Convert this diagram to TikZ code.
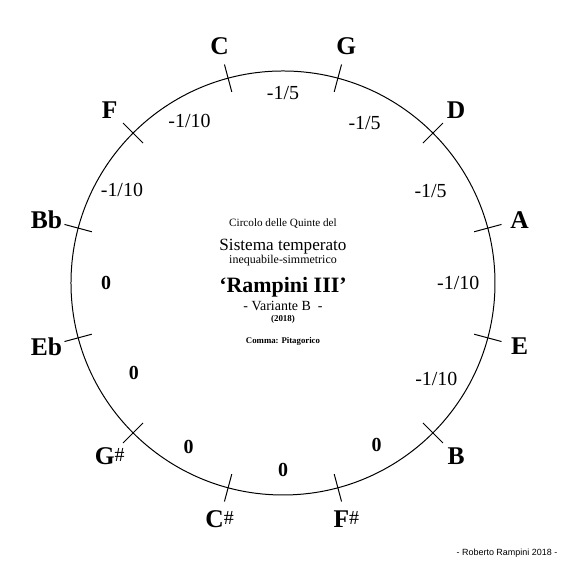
\documentclass[tikz,border=0pt]{standalone}
\usepackage{fontspec}
\setmainfont{Liberation Serif}
\newfontfamily\firmafont{Liberation Sans}
\newcommand{\diesis}{\raisebox{1.6pt}{\mdseries\fontsize{10}{10}\selectfont\#}}

\begin{document}
\begin{tikzpicture}[line width=0.5pt,
	notename/.style={font=\fontsize{12.8}{13}\selectfont\bfseries},
	frac/.style={font=\fontsize{10}{10}\selectfont},
	zero/.style={font=\fontsize{10}{10}\selectfont\bfseries},
	centro/.style={anchor=base, inner sep=0pt}]
	\useasboundingbox (-4.991,-5.009) rectangle (5.009,4.991);
	% cerchio e note
	\draw (0,0) circle (3.739);
	\foreach \a/\n/\t in {105/C/C, 75/G/G, 45/D/D, 15/A/A, -15/E/E, -45/B/B, -75/Fs/F\diesis, -105/Cs/C\diesis, -135/Gs/G\diesis, -165/Eb/Eb, 165/Bb/Bb, 135/F/F} {
		\draw (\a:3.49) -- (\a:3.99);
		\node[notename] (\n) at (\a:4.32) {\t};
	}
	% temperamenti
	\foreach \a/\r/\t [count=\i] in {90/3.35/{-1/5}, 63/3.17/{-1/5}, 32/3.07/{-1/5}, 0/3.09/{-1/10}, -32/3.19/{-1/10}, 150/3.28/{-1/10}, 120/3.30/{-1/10}}
		\node[frac] (q\i) at (\a:\r) {\t};
	\foreach \a/\r [count=\i] in {-60/3.30, -90/3.30, -120/3.33, -149/3.07, 180/3.12}
		\node[zero] (z\i) at (\a:\r) {0};
	% titolo
	\node[centro, font=\fontsize{5.6}{6}\selectfont] (circolo) at (0,0.99) {Circolo delle Quinte del};
	\node[centro, font=\fontsize{8.6}{9}\selectfont] (sistema) at (0,0.58) {Sistema temperato};
	\node[centro, font=\fontsize{6}{6}\selectfont] (tipo) at (0,0.335) {inequabile-simmetrico};
	\node[centro, font=\fontsize{11}{11}\selectfont\bfseries] (nome) at (0,-0.176) {`Rampini III'};
	\node[centro, font=\fontsize{7}{7}\selectfont] (variante) at (0,-0.494) {- Variante B \ -};
	\node[centro, font=\fontsize{4.5}{5}\selectfont\bfseries] (anno) at (0,-0.68) {(2018)};
	\node[centro, font=\fontsize{4.4}{5}\selectfont\bfseries] (comma) at (0,-1.06) {Comma: Pitagorico};
	\node[centro, font=\firmafont\fontsize{4.5}{5}\selectfont] (firma) at (3.95,-4.80) {- Roberto Rampini 2018 -};
\end{tikzpicture}
\end{document}
